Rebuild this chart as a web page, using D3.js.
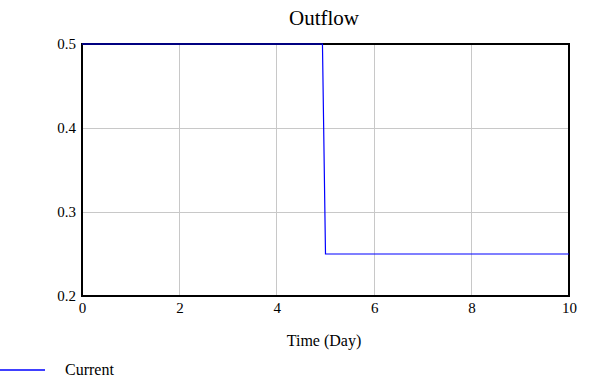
<!DOCTYPE html>
<html>
<head>
<meta charset="utf-8">
<script src="https://cdn.jsdelivr.net/npm/d3@7"></script>
<style>
  body { margin: 0; background: #fff; }
</style>
</head>
<body>
<svg id="chart" width="597" height="384"></svg>
<script>
// data
const times = [0, 4.9375, 5, 10];
const outflow = [0.5, 0.5, 0.25, 0.25];
const xTicks = [0, 2, 4, 6, 8, 10];
const yTicks = [0.2, 0.3, 0.4, 0.5];

const svg = d3.select("#chart").attr("font-family", "Liberation Serif");
const plotL = 82, plotR = 569, plotT = 44, plotB = 296;

const x = d3.scaleLinear().domain([0, 10]).range([plotL, plotR]);
const y = d3.scaleLinear().domain([0.2, 0.5]).range([plotB, plotT]);

// grid
svg.append("g").selectAll("line").data(xTicks).enter().append("line")
  .attr("x1", d => x(d)).attr("x2", d => x(d))
  .attr("y1", plotT).attr("y2", plotB)
  .attr("stroke", "#c8c8c8").attr("stroke-width", 1).attr("shape-rendering", "crispEdges");
svg.append("g").selectAll("line").data(yTicks).enter().append("line")
  .attr("x1", plotL).attr("x2", plotR)
  .attr("y1", d => y(d)).attr("y2", d => y(d))
  .attr("stroke", "#c8c8c8").attr("stroke-width", 1).attr("shape-rendering", "crispEdges");

// frame
svg.append("rect").attr("x", plotL).attr("y", plotT)
  .attr("width", plotR - plotL).attr("height", plotB - plotT)
  .attr("fill", "none").attr("stroke", "#000").attr("stroke-width", 2);

// axes (labels only, frame draws the lines)
const xAxis = svg.append("g").attr("transform", `translate(0,${plotB})`)
  .call(d3.axisBottom(x).tickValues(xTicks).tickSize(0).tickPadding(6).tickFormat(d3.format("d")));
xAxis.attr("font-family", "Liberation Serif").attr("font-size", 15);
xAxis.select(".domain").remove();

const yAxis = svg.append("g").attr("transform", `translate(${plotL},0)`)
  .call(d3.axisLeft(y).tickValues(yTicks).tickSize(0).tickPadding(6).tickFormat(d3.format(".1f")));
yAxis.attr("font-family", "Liberation Serif").attr("font-size", 15);
yAxis.select(".domain").remove();

// line
const line = d3.line().x((d, i) => x(times[i])).y(d => y(d));
svg.append("path").datum(outflow)
  .attr("d", line).attr("fill", "none").attr("stroke", "#0000ff").attr("stroke-width", 1.2);

// title & axis label
svg.append("text").attr("x", 324).attr("y", 25)
  .attr("text-anchor", "middle").attr("font-size", 21).text("Outflow");
svg.append("text").attr("x", 324).attr("y", 346)
  .attr("text-anchor", "middle").attr("font-size", 16).text("Time (Day)");

// legend
svg.append("line").attr("x1", 0).attr("x2", 45).attr("y1", 370).attr("y2", 370)
  .attr("stroke", "#0000ff").attr("stroke-width", 1.5);
svg.append("text").attr("x", 65).attr("y", 375).attr("font-size", 16).text("Current");
</script>
</body>
</html>
